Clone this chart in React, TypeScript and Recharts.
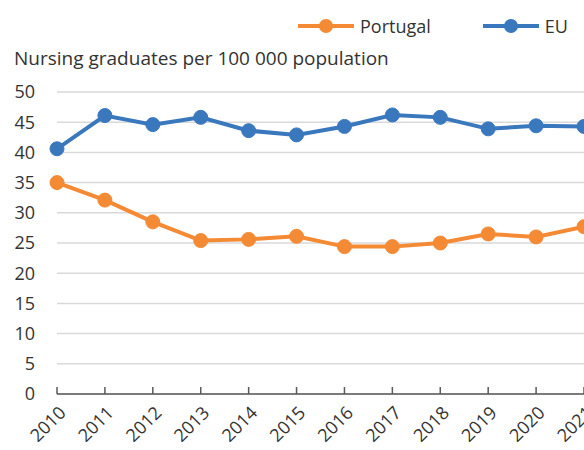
import { LineChart, Line, XAxis, YAxis, CartesianGrid } from 'recharts';

const years = ['2010', '2011', '2012', '2013', '2014', '2015', '2016', '2017', '2018', '2019', '2020', '2021'];
const portugal = [35.0, 32.1, 28.5, 25.4, 25.6, 26.1, 24.4, 24.4, 25.0, 26.5, 26.0, 27.7];
const eu = [40.6, 46.1, 44.6, 45.8, 43.6, 42.9, 44.3, 46.2, 45.8, 43.9, 44.4, 44.3];
const yTicks = [0, 5, 10, 15, 20, 25, 30, 35, 40, 45, 50];

const ORANGE = '#F58A35';
const BLUE = '#3A78BE';
const FONT = '"Open Sans", "Noto Sans", sans-serif';

const data = years.map((year, i) => ({ year, portugal: portugal[i], eu: eu[i] }));

const legendItems = [
  { name: 'Portugal', color: ORANGE },
  { name: 'EU', color: BLUE },
];

// legend kept outside the chart so it does not push the plot area down
const ChartLegend = () => (
  <div
    style={{
      position: 'absolute', left: 298, top: 14, display: 'flex', alignItems: 'center',
      fontFamily: FONT, fontSize: 18, color: '#333',
    }}
  >
    {legendItems.map((item) => (
      <div key={item.name} style={{ display: 'flex', alignItems: 'center', marginRight: 52 }}>
        <svg width={58} height={16} style={{ marginRight: 4 }}>
          <line x1={0} y1={8} x2={56} y2={8} stroke={item.color} strokeWidth={4} />
          <circle cx={28} cy={8} r={7} fill={item.color} />
        </svg>
        <span>{item.name}</span>
      </div>
    ))}
  </div>
);

// ticks point up into the plot, so the label is pushed back below the axis
const YearTick = ({ x, y, payload }: any) => (
  <g transform={`translate(${x + 1},${y + 16})`}>
    <text transform="rotate(-45)" textAnchor="end" dy="0.7em" fill="#333" fontSize={18} fontFamily={FONT}>
      {payload.value}
    </text>
  </g>
);

export default function App() {
  return (
    <div style={{ position: 'absolute', left: 0, top: 0, width: 584, height: 450, overflow: 'hidden', background: '#fff' }}>
      <ChartLegend />
      <div
        style={{ position: 'absolute', left: 14, top: 45, fontFamily: FONT, fontSize: 19, color: '#333', whiteSpace: 'nowrap' }}
      >
        Nursing graduates per 100 000 population
      </div>
      <LineChart width={600} height={450} data={data} margin={{ top: 92, right: 16, bottom: 0, left: 0 }}>
        <CartesianGrid vertical={false} stroke="#d9d9d9" strokeWidth={1.5} />
        <XAxis
          dataKey="year"
          height={56}
          tick={<YearTick />}
          interval={0}
          axisLine={{ stroke: '#595959', strokeWidth: 1.5 }}
          tickLine={{ stroke: '#595959', strokeWidth: 1.5 }}
          tickSize={-7}
          padding={{ left: 0, right: 0 }}
        />
        <YAxis
          domain={[0, 50]}
          ticks={yTicks}
          width={57}
          axisLine={false}
          tickLine={false}
          tickSize={0}
          tickMargin={22}
          tick={{ fill: '#333', fontSize: 18, fontFamily: FONT }}
        />
        <Line
          type="linear"
          dataKey="portugal"
          name="Portugal"
          stroke={ORANGE}
          strokeWidth={4}
          dot={{ r: 7, fill: ORANGE, stroke: ORANGE, strokeWidth: 1 }}
          isAnimationActive={false}
        />
        <Line
          type="linear"
          dataKey="eu"
          name="EU"
          stroke={BLUE}
          strokeWidth={4}
          dot={{ r: 7, fill: BLUE, stroke: BLUE, strokeWidth: 1 }}
          isAnimationActive={false}
        />
      </LineChart>
    </div>
  );
}
